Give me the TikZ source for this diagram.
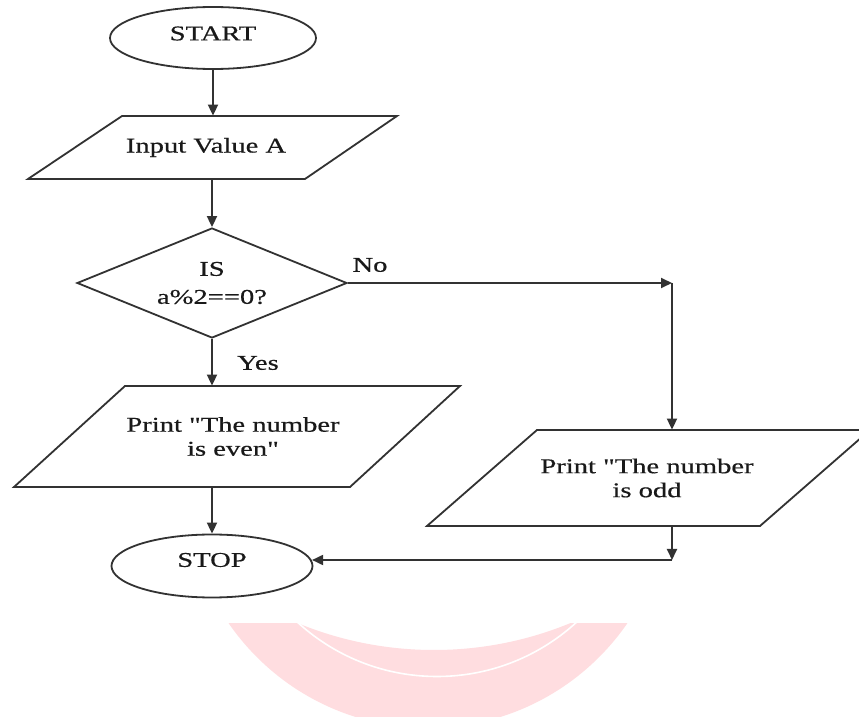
\documentclass[tikz,border=0pt]{standalone}
\usepackage{fontspec}
\setmainfont{Liberation Serif}[FakeStretch=1.36, FakeBold=0.5, Ligatures=TeXOff]
\usetikzlibrary{shapes.geometric,arrows.meta}
\definecolor{inkline}{RGB}{50,50,50}
\definecolor{inktext}{RGB}{25,25,25}
\definecolor{wmpink}{RGB}{255,221,224}
\begin{document}
\begin{tikzpicture}[x=0.5pt,y=-0.5pt,
  every node/.style={font=\fontsize{10.5}{12}\selectfont, text=inktext, inner sep=0pt},
  outline/.style={draw=inkline, line width=0.9pt, line join=miter},
  terminal/.style={outline, ellipse},
  decision/.style={outline, diamond, aspect=2.45, align=center, font=\fontsize{10.5}{14}\selectfont},
  iotext/.style={align=center},
  flow/.style={draw=inkline, line width=0.9pt, -{Triangle[length=5.5pt,width=5pt]}}]

% page area
\path[use as bounding box, fill=white] (0,0) rectangle (859,717);

% pink ring mark at the foot of the page
\begin{scope}
  \clip (0,624) rectangle (859,717);
  \fill[wmpink, even odd rule] (428,486) circle[radius=121pt] (434,292) circle[radius=179pt];
  \draw[white, line width=0.8pt] (437,470) circle[radius=103.25pt];
\end{scope}

% terminals
\node[terminal, minimum width=103pt, minimum height=31pt] (start) at (213,38) {};
\node (startlbl) at (213,33.5) {START};
\node[terminal, minimum width=100.5pt, minimum height=31.5pt] (stop) at (212,566) {};
\node (stoplbl) at (212,560) {STOP};

% input
\draw[outline] (28,179) -- (122,116) -- (397,116) -- (305,179) -- cycle;
\node[iotext, minimum height=31.5pt] (input) at (206,147.5) {Input Value A};

% decision
\node[decision, minimum width=135pt, minimum height=55pt] (dec) at (212,283) {IS\\a\%2==0?};

% outputs
\draw[outline] (14,487) -- (125,386) -- (460,386) -- (350,487) -- cycle;
\node[iotext, minimum height=50.5pt] (even) at (233,436.5) {Print "The number\\is even"};
\draw[outline] (427,526) -- (537,430) -- (870,430) -- (760,526) -- cycle;
\node[iotext, minimum height=48pt] (odd) at (647,478) {Print "The number\\is odd};

% branch labels
\node (nolbl) at (370,265) {No};
\node (yeslbl) at (258,363) {Yes};

% bends of the right-hand branch
\coordinate (nobend) at (672,283);
\coordinate (oddbend) at (672,560);

% connectors
\draw[flow] (start.south) -- (start.south |- input.north);
\draw[flow] (dec.north |- input.south) -- (dec.north);
\draw[flow] (dec.south) -- (dec.south |- even.north);
\draw[flow] (stop.north |- even.south) -- (stop.north);
\draw[flow] (dec.east) -- (nobend);
\draw[flow] (nobend) -- (nobend |- odd.north);
\draw[flow] (oddbend |- odd.south) -- (oddbend);
\draw[flow] (oddbend) -- (oddbend -| stop.3.5);
\end{tikzpicture}
\end{document}
